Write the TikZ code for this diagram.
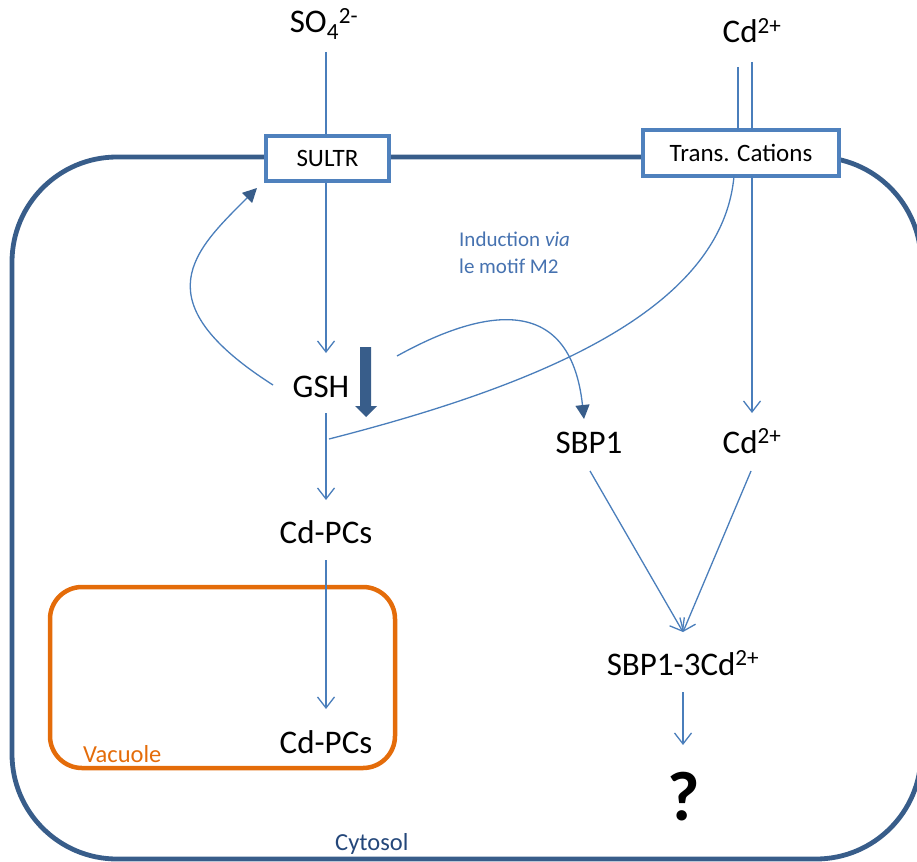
\documentclass[tikz,border=0pt]{standalone}
\usepackage{fontspec}
\setmainfont{Carlito}
\usetikzlibrary{arrows.meta}
\definecolor{thinb}{HTML}{4A7EBB}
\definecolor{memb}{HTML}{385D8A}
\definecolor{boxb}{HTML}{4F81BD}
\definecolor{orng}{HTML}{E46C0A}
\definecolor{cyto}{HTML}{24477A}
\definecolor{indc}{HTML}{4672B0}
\tikzset{
  lab/.style={inner sep=0pt, anchor=base, font=\fontsize{33}{40}\selectfont},
  tbox/.style={draw=boxb, line width=4pt, fill=white, inner sep=0pt, font=\fontsize{25}{30}\selectfont},
  conn/.style={draw=thinb, line width=1.3pt},
  arr/.style={conn, -{Straight Barb[length=11pt,width=17pt,line width=1.3pt]}},
  tri/.style={conn, -{Triangle[length=14pt,width=14pt,color=memb]}},
}
\begin{document}
\begin{tikzpicture}[x=1pt,y=-1pt]
\useasboundingbox (0,0) rectangle (917,861);
% cell outline
\begin{scope}
\clip (0,0) rectangle (917,861);
\draw[memb, line width=4.8pt, rounded corners=105pt] (12,157) rectangle (921,859);
\end{scope}
% vacuole
\draw[orng, line width=4.5pt, rounded corners=32pt] (50,587) rectangle (395,768);
\node[inner sep=0pt, anchor=base west, text=orng, font=\fontsize{24.5}{29}\selectfont] (vac) at (83,762) {Vacuole};
\node[inner sep=0pt, anchor=base west, text=cyto, font=\fontsize{24.5}{29}\selectfont] (cyt) at (335,850) {Cytosol};
% transporters
\node[tbox, minimum width=123pt, minimum height=45pt] (sultr) at (327.5,158.5) {SULTR};
\node[tbox, minimum width=196pt, minimum height=46pt] (trans) at (741,153) {Trans. Cations};
% labels
\node[lab] (so4) at (324,33) {SO\textsubscript{4}\textsuperscript{2-}};
\node[lab] (cdtop) at (752,43) {Cd\textsuperscript{2+}};
\node[lab] (gsh) at (321,397) {GSH};
\node[lab] (cdpc1) at (326,543) {Cd-PCs};
\node[lab] (cdpc2) at (326,753) {Cd-PCs};
\node[lab] (sbp1) at (589,453) {SBP1};
\node[lab] (cd2) at (752,453) {Cd\textsuperscript{2+}};
\node[lab] (cplx) at (683,675) {SBP1-3Cd\textsuperscript{2+}};
\node[inner sep=0pt, anchor=base, font=\fontsize{70}{80}\selectfont\bfseries] (q) at (684,820) {?};
\node[inner sep=0pt, anchor=base west, align=left, text=indc, font=\fontsize{21}{27}\selectfont] (ind) at (459,273) {Induction \textit{via}\\le motif M2};
% connector end points
\coordinate (so4e) at (326,52);
\coordinate (gshin) at (326,353);
\coordinate (gshout) at (326,413);
\coordinate (pc1in) at (326,500);
\coordinate (pc1out) at (326,560);
\coordinate (pc2in) at (326,709);
\coordinate (cdA) at (738,67);
\coordinate (cdB) at (752,62);
\coordinate (cdAin) at (738,130);
\coordinate (cdBin) at (752,130);
\coordinate (cdAout) at (734,176);
\coordinate (cdBout) at (752,176);
\coordinate (cd2in) at (752,413);
\coordinate (junc) at (329,439);
\coordinate (gshl) at (273,385);
\coordinate (sultrin) at (257,188);
\coordinate (gshr) at (397,356);
\coordinate (sbpin) at (584,419);
\coordinate (sbpout) at (590,471);
\coordinate (cd2out) at (751,471);
\coordinate (cplxin) at (683,632);
\coordinate (cplxout) at (683,692);
\coordinate (qin) at (683,745);
% connectors
\draw[conn] (so4e) -- (sultr.north -| so4e);
\draw[arr] (sultr.south -| gshin) -- (gshin);
\draw[arr] (gshout) -- (pc1in);
\draw[arr] (pc1out) -- (pc2in);
\draw[conn] (cdA) -- (cdAin);
\draw[conn] (cdB) -- (cdBin);
\draw[arr] (cdBout) -- (cd2in);
\draw[conn] (cdAout) .. controls (722,310) and (540,385) .. (junc);
\draw[tri] (gshl) .. controls (140,300) and (195,250) .. (sultrin);
\draw[tri] (gshr) .. controls (480,310) and (570,290) .. (sbpin);
\draw[arr] (sbpout) -- (cplxin);
\draw[arr] (cd2out) -- (cplxin);
\draw[arr] (cplxout) -- (qin);
% thick arrow
\fill[memb] (360,347) -- (371,347) -- (371,406) -- (377,406) -- (366,417) -- (355,406) -- (360,406) -- cycle;
\end{tikzpicture}
\end{document}
